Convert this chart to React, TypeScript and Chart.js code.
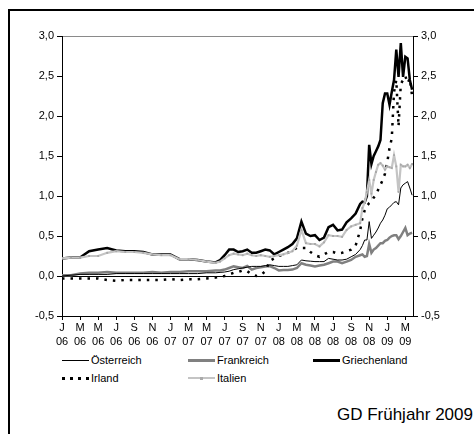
import {useEffect, useRef} from "react";
import {Chart, registerables} from "chart.js";

Chart.register(...registerables);

// x position of each observation in months since January 2006
const months = [
  0, 1, 2, 3, 4, 5, 6, 7, 8, 9, 10, 11, 12, 13, 14, 15, 16, 17,
  17.5, 18, 18.5, 19, 19.5, 20, 20.5, 21, 21.5, 22, 22.5, 23, 23.5, 24, 24.5, 25,
  25.5, 26, 26.5, 27, 27.5, 28, 28.5, 29, 29.5, 30, 30.5, 31, 31.5, 32, 32.5, 33,
  33.25, 33.5, 33.75, 34, 34.25, 34.5, 34.75, 35, 35.25, 35.5, 35.75, 36, 36.25,
  36.5, 36.75, 37, 37.25, 37.5, 37.75, 38, 38.25, 38.5, 38.75,
];

const oesterreich = [
  0.0, 0.01, 0.02, 0.02, 0.02, 0.02, 0.03, 0.03, 0.03, 0.03, 0.03, 0.03, 0.03, 0.03, 0.03, 0.03, 0.04, 0.04,
  0.045, 0.05, 0.06, 0.08, 0.09, 0.1, 0.11, 0.12, 0.12, 0.12, 0.13, 0.14, 0.13, 0.12, 0.12, 0.12,
  0.13, 0.14, 0.2, 0.19, 0.185, 0.18, 0.18, 0.18, 0.22, 0.21, 0.2, 0.2, 0.21, 0.24, 0.27, 0.33,
  0.38, 0.45, 0.45, 0.68, 0.47, 0.51, 0.55, 0.6, 0.66, 0.7, 0.76, 0.84, 0.86,
  0.89, 0.92, 0.93, 0.89, 1.1, 1.14, 1.16, 1.18, 1.1, 1.01,
];

const frankreich = [
  0.01, 0.01, 0.03, 0.04, 0.04, 0.05, 0.04, 0.04, 0.04, 0.04, 0.05, 0.04, 0.05, 0.05, 0.06, 0.06, 0.06, 0.07,
  0.07, 0.08, 0.1, 0.12, 0.11, 0.1, 0.125, 0.08, 0.1, 0.11, 0.12, 0.125, 0.1, 0.07, 0.075, 0.075,
  0.08, 0.1, 0.16, 0.14, 0.13, 0.12, 0.13, 0.14, 0.16, 0.18, 0.18, 0.16, 0.18, 0.2, 0.24, 0.26,
  0.27, 0.24, 0.25, 0.4, 0.29, 0.33, 0.35, 0.38, 0.41, 0.41, 0.44, 0.45, 0.48,
  0.5, 0.51, 0.51, 0.46, 0.5, 0.55, 0.6, 0.51, 0.53, 0.54,
];

const griechenland = [
  0.22, 0.23, 0.23, 0.31, 0.33, 0.35, 0.32, 0.31, 0.31, 0.3, 0.27, 0.27, 0.27, 0.21, 0.21, 0.2, 0.18, 0.17,
  0.2, 0.26, 0.33, 0.33, 0.3, 0.31, 0.33, 0.29, 0.29, 0.31, 0.33, 0.32, 0.27, 0.3, 0.33, 0.36,
  0.4, 0.47, 0.68, 0.53, 0.5, 0.51, 0.45, 0.48, 0.61, 0.64, 0.57, 0.58, 0.67, 0.72, 0.78, 0.9,
  0.93, 0.92, 1.0, 1.64, 1.4, 1.5, 1.56, 1.62, 1.7, 2.16, 2.28, 2.28, 2.14,
  2.3, 2.45, 2.83, 2.49, 2.91, 2.49, 2.74, 2.72, 2.45, 2.33,
];

const irland = [
  -0.03, -0.03, -0.03, -0.03, -0.03, -0.05, -0.06, -0.05, -0.05, -0.05, -0.05, -0.05, -0.04, -0.05, -0.04, -0.04, -0.03, -0.02,
  -0.01, 0.0, 0.02, 0.04, 0.05, 0.07, 0.06, 0.02, 0.0, 0.01, 0.06, 0.19, 0.22, 0.25, 0.27, 0.29,
  0.32, 0.35, 0.35, 0.35, 0.3, 0.26, 0.24, 0.27, 0.3, 0.3, 0.28, 0.29, 0.31, 0.33, 0.38, 0.57,
  0.72, 0.82, 0.88, 0.91, 0.93, 0.98, 1.01, 1.08, 1.14, 1.2, 1.28, 1.42, 1.6,
  1.72, 2.3, 2.45, 1.87, 2.4, 2.45, 2.5, 2.41, 2.47, 2.25,
];

const italien = [
  0.22, 0.23, 0.23, 0.25, 0.25, 0.29, 0.31, 0.3, 0.3, 0.29, 0.27, 0.26, 0.26, 0.21, 0.21, 0.2, 0.18, 0.165,
  0.18, 0.22, 0.26, 0.28, 0.27, 0.26, 0.28, 0.26, 0.25, 0.26, 0.25, 0.24, 0.25, 0.26, 0.27, 0.29,
  0.31, 0.38, 0.575, 0.41, 0.4, 0.4, 0.37, 0.42, 0.51, 0.5, 0.5, 0.49, 0.575, 0.62, 0.64, 0.66,
  0.85, 0.92, 1.05, 1.2, 1.03, 1.2, 1.3, 1.39, 1.41, 1.38, 1.33, 1.37, 1.36,
  1.35, 1.51, 1.37, 1.05, 1.39, 1.37, 1.37, 1.39, 1.35, 1.4,
];

// axis labels every two months
const tickMonths = ["J", "M", "M", "J", "S", "N", "J", "M", "M", "J", "S", "N", "J", "M", "M", "J", "S", "N", "J", "M"];
const tickYears = ["06", "06", "06", "06", "06", "06", "07", "07", "07", "07", "07", "07", "08", "08", "08", "08", "08", "08", "09", "09"];

const FONT = "Arial, 'Liberation Sans', sans-serif";

const toPoints = (values: number[]) => values.map((y, i) => ({x: months[i], y}));

export default function App() {
  const chartRef = useRef<HTMLCanvasElement>(null);
  const chartInstance = useRef<Chart | null>(null);

  useEffect(() => {
    if (!chartRef.current) return;
    if (chartInstance.current) chartInstance.current.destroy();

    const ctx = chartRef.current.getContext("2d");
    if (!ctx) return;

    const yLabel = (v: any) => Number(v).toFixed(1).replace(".", ",");

    chartInstance.current = new Chart(ctx, {
      type: "line",
      data: {
        datasets: [
          {
            label: "Italien",
            data: toPoints(italien),
            borderColor: "#c4c4c4",
            borderWidth: 2.2,
            pointRadius: 1.3,
            pointStyle: "rect",
            pointBackgroundColor: "#a8a8a8",
            pointBorderWidth: 0,
            order: 1,
          },
          {
            label: "Griechenland",
            data: toPoints(griechenland),
            borderColor: "#000",
            borderWidth: 2.5,
            pointRadius: 0,
            order: 2,
          },
          {
            label: "Irland",
            data: toPoints(irland),
            borderColor: "#000",
            borderWidth: 2.5,
            borderDash: [2.5, 6],
            pointRadius: 0,
            order: 3,
          },
          {
            label: "Österreich",
            data: toPoints(oesterreich),
            borderColor: "#000",
            borderWidth: 1,
            pointRadius: 0,
            order: 4,
          },
          {
            label: "Frankreich",
            data: toPoints(frankreich),
            borderColor: "#808080",
            borderWidth: 2.5,
            pointRadius: 0,
            order: 5,
          },
        ],
      },
      options: {
        animation: false,
        responsive: true,
        maintainAspectRatio: false,
        layout: {padding: {top: 25, left: 0, right: 0, bottom: 0}},
        font: {family: FONT, size: 11},
        scales: {
          x: {
            type: "linear",
            min: 0,
            max: 38.85,
            afterBuildTicks: (scale: any) => {
              scale.ticks = tickMonths.map((_, i) => ({value: i * 2}));
            },
            afterFit: (scale: any) => {
              scale.height = 36;
            },
            ticks: {
              autoSkip: false,
              maxRotation: 0,
              padding: 1,
              color: "#000",
              font: {family: FONT, size: 11, lineHeight: 1.25},
              callback: (v: any) => {
                const i = Math.round(Number(v) / 2);
                return [tickMonths[i], tickYears[i]];
              },
            },
            grid: {drawOnChartArea: false, tickLength: 4, tickColor: "#000", color: "#000"},
            border: {color: "#000", width: 1},
          },
          y: {
            position: "left",
            min: -0.5,
            max: 3,
            afterFit: (scale: any) => {
              scale.width = 52;
            },
            ticks: {
              stepSize: 0.5,
              padding: 3,
              color: "#000",
              font: {family: FONT, size: 11},
              callback: yLabel,
            },
            grid: {
              tickLength: 5,
              tickColor: "#000",
              color: (c: any) =>
                c.tick && c.tick.value === 0 ? "#000" : c.tick && c.tick.value === 3 ? "#8a8a8a" : "rgba(0,0,0,0)",
            },
            border: {color: "#000", width: 1},
          },
          y2: {
            position: "right",
            min: -0.5,
            max: 3,
            afterFit: (scale: any) => {
              scale.width = 61;
            },
            ticks: {
              stepSize: 0.5,
              padding: 3,
              color: "#000",
              font: {family: FONT, size: 11},
              callback: yLabel,
            },
            grid: {drawOnChartArea: false, tickLength: 5, tickColor: "#000"},
            border: {color: "#000", width: 1},
          },
        },
        plugins: {
          legend: {display: false},
          tooltip: {enabled: false},
        },
      },
    });

    return () => {
      if (chartInstance.current) {
        chartInstance.current.destroy();
        chartInstance.current = null;
      }
    };
  }, []);

  const text = {fontFamily: FONT, fontSize: 11, lineHeight: "12px", color: "#000", whiteSpace: "nowrap" as const};

  const item = (left: number, top: number, sample: any, label: string) => (
    <div style={{position: "absolute", left, top, height: 12, display: "flex", alignItems: "center"}}>
      <div style={{width: 27, height: 12, position: "relative", marginRight: 2}}>{sample}</div>
      <span style={text}>{label}</span>
    </div>
  );

  const solid = (h: number, color: string) => (
    <div style={{position: "absolute", left: 0, right: 0, top: 6 - h / 2, height: h, background: color}} />
  );

  const dotted = (
    <div
      style={{
        position: "absolute",
        left: 0,
        right: 0,
        top: 5,
        height: 3,
        background: "repeating-linear-gradient(90deg, #000 0 3px, transparent 3px 8px)",
      }}
    />
  );

  const marked = (
    <>
      {solid(2, "#c4c4c4")}
      <div style={{position: "absolute", left: 12, top: 5, width: 3, height: 3, background: "#aaa"}} />
    </>
  );

  // page coordinates: the wrapper is fixed at the top-left of the window
  return (
    <div style={{position: "fixed", left: 0, top: 0, width: 474, height: 434, overflow: "hidden", background: "#fff"}}>
      <div
        style={{
          position: "absolute",
          left: 8,
          top: 9,
          width: 480,
          height: 440,
          borderLeft: "2px solid #000",
          borderTop: "2px solid #000",
          boxSizing: "border-box",
        }}
      />
      <div style={{position: "absolute", left: 10, top: 11, width: 464, height: 341}}>
        <canvas ref={chartRef} />
      </div>
      {item(62, 354, solid(1, "#000"), "Österreich")}
      {item(188, 354, solid(3, "#808080"), "Frankreich")}
      {item(313, 354, solid(3, "#000"), "Griechenland")}
      {item(62, 372, dotted, "Irland")}
      {item(188, 372, marked, "Italien")}
      <div
        style={{
          position: "absolute",
          right: 1,
          top: 406,
          fontFamily: FONT,
          fontSize: 17,
          lineHeight: "17px",
          color: "#000",
          whiteSpace: "nowrap",
        }}
      >
        GD Frühjahr 2009
      </div>
    </div>
  );
}
